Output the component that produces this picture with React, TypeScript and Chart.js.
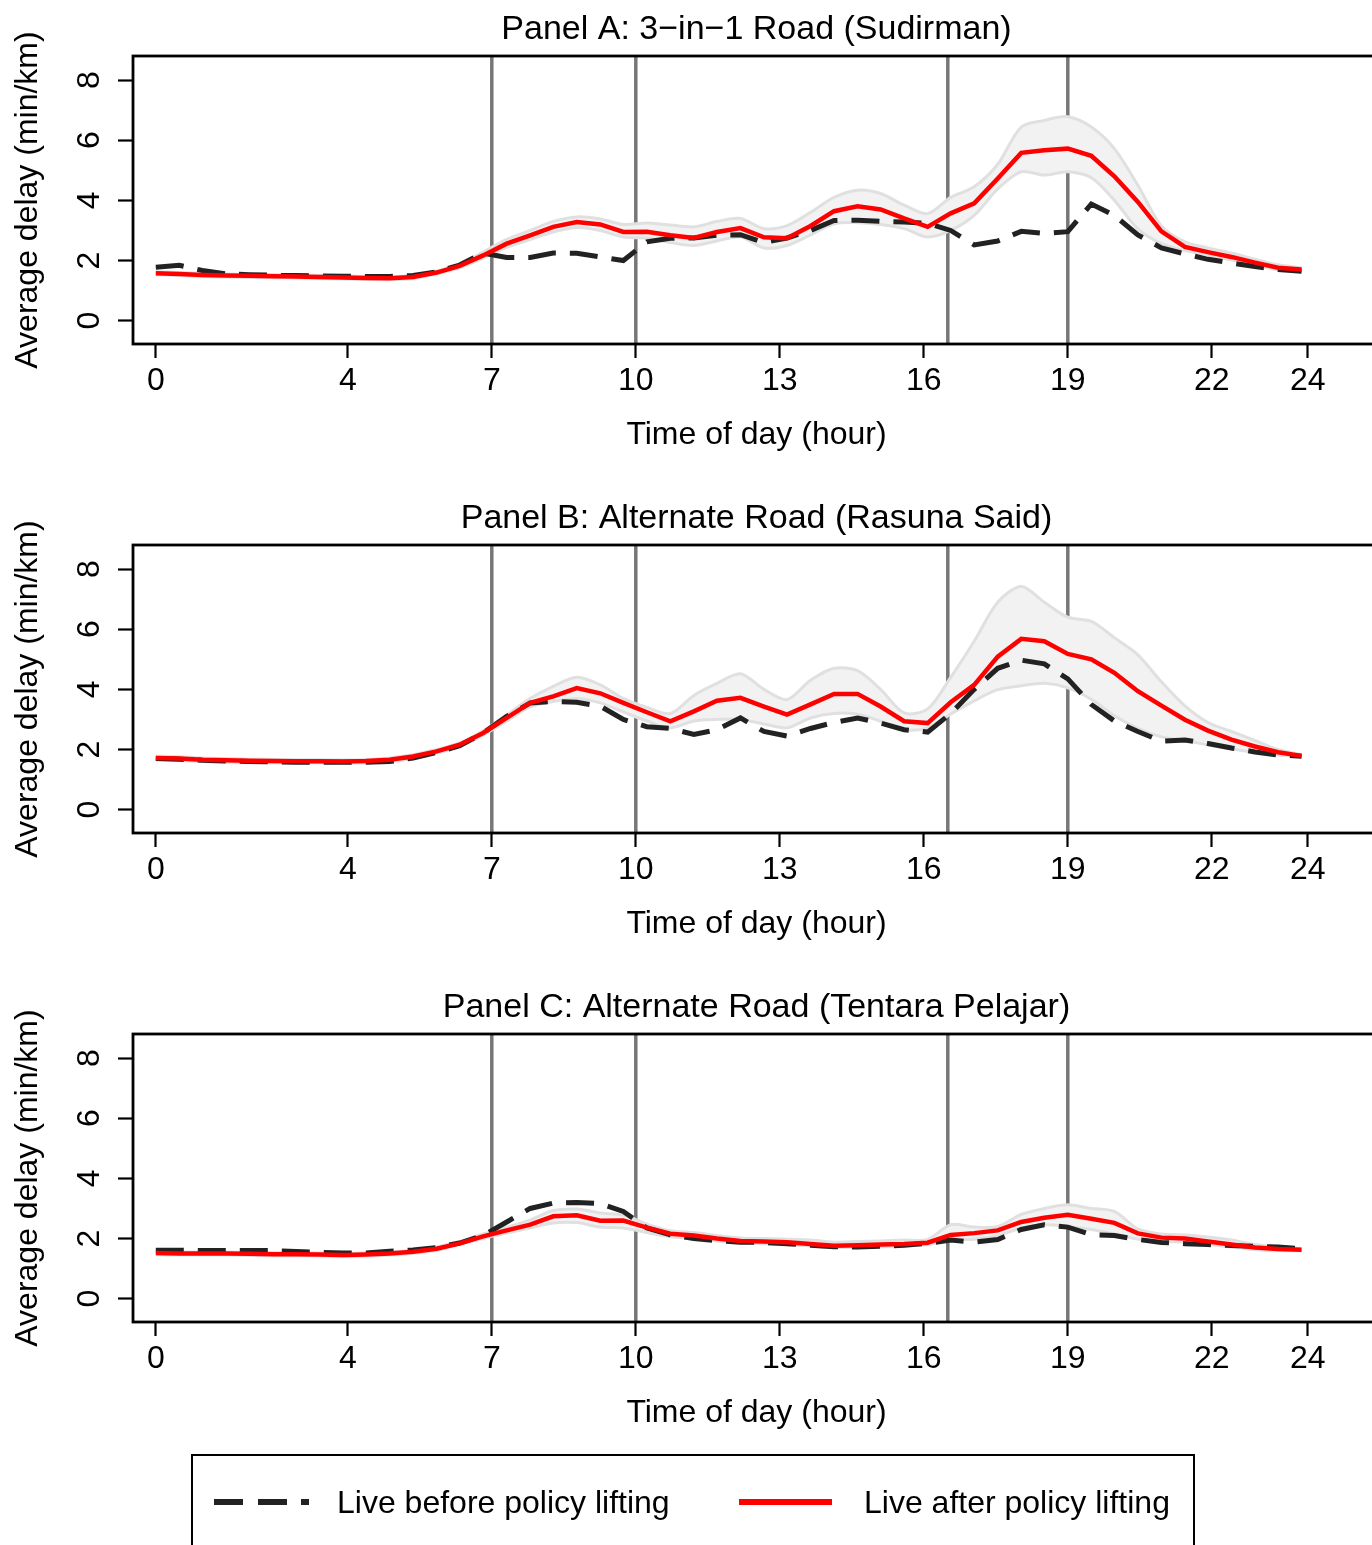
import React, { useEffect, useRef } from "react";
import { Chart, registerables } from "chart.js";

Chart.register(...registerables);

const FONT = "'Liberation Sans', Arial, Helvetica, sans-serif";

// sample times (hour of day)
const hours = [0, 0.49, 0.97, 1.46, 1.95, 2.44, 2.92, 3.41, 3.9, 4.38, 4.87, 5.36, 5.85, 6.33, 6.82, 7.31, 7.8, 8.28, 8.77, 9.26, 9.74, 10.23, 10.72, 11.21, 11.69, 12.18, 12.67, 13.15, 13.64, 14.13, 14.62, 15.1, 15.59, 16.08, 16.56, 17.05, 17.54, 18.03, 18.51, 19.0, 19.49, 19.97, 20.46, 20.95, 21.44, 21.92, 22.41, 22.9, 23.38, 23.87];

const xTicks = [0, 4, 7, 10, 13, 16, 19, 22, 24];
const yTicks = [0, 2, 4, 6, 8];
const policyLines = [7, 10, 16.5, 19];

const X_MIN = -0.475;
const X_MAX = 25.504;
const Y_MIN = -0.775;
const Y_MAX = 8.8;

const titles = [
  "Panel A: 3\u2212in\u22121 Road (Sudirman)",
  "Panel B: Alternate Road (Rasuna Said)",
  "Panel C: Alternate Road (Tentara Pelajar)",
];

// Panel A
const aAfter = [1.58, 1.55, 1.52, 1.5, 1.49, 1.48, 1.47, 1.45, 1.44, 1.42, 1.41, 1.45, 1.6, 1.82, 2.17, 2.56, 2.84, 3.12, 3.28, 3.2, 2.95, 2.96, 2.84, 2.75, 2.95, 3.08, 2.77, 2.74, 3.15, 3.64, 3.8, 3.7, 3.4, 3.12, 3.57, 3.9, 4.73, 5.58, 5.67, 5.72, 5.48, 4.8, 3.95, 2.97, 2.45, 2.28, 2.12, 1.93, 1.76, 1.7];
const aBefore = [1.78, 1.84, 1.67, 1.56, 1.53, 1.51, 1.5, 1.49, 1.48, 1.47, 1.47, 1.5, 1.62, 1.85, 2.25, 2.1, 2.1, 2.25, 2.24, 2.12, 2.0, 2.62, 2.74, 2.75, 2.84, 2.86, 2.6, 2.75, 3.0, 3.33, 3.34, 3.3, 3.28, 3.24, 3.0, 2.52, 2.65, 2.97, 2.9, 2.96, 3.88, 3.5, 2.85, 2.42, 2.22, 2.04, 1.92, 1.8, 1.7, 1.64];
const aUpper = [1.63, 1.6, 1.57, 1.55, 1.54, 1.53, 1.52, 1.5, 1.49, 1.47, 1.46, 1.5, 1.65, 1.88, 2.28, 2.7, 3.0, 3.3, 3.45, 3.38, 3.2, 3.25, 3.18, 3.12, 3.3, 3.4, 3.06, 3.16, 3.6, 4.1, 4.34, 4.23, 3.84, 3.56, 4.1, 4.45, 5.2, 6.44, 6.66, 6.78, 6.44, 5.72, 4.5, 3.15, 2.62, 2.42, 2.25, 2.04, 1.86, 1.76];
const aLower = [1.53, 1.5, 1.47, 1.45, 1.44, 1.43, 1.42, 1.4, 1.39, 1.37, 1.36, 1.4, 1.56, 1.76, 2.08, 2.44, 2.7, 2.95, 3.1, 3.0, 2.78, 2.75, 2.6, 2.5, 2.65, 2.78, 2.42, 2.5, 2.85, 3.22, 3.26, 3.2, 3.06, 2.78, 3.0, 3.5, 4.38, 4.95, 4.84, 4.95, 4.75, 4.0, 3.05, 2.56, 2.33, 2.18, 2.02, 1.85, 1.7, 1.64];

// Panel B
const bAfter = [1.72, 1.7, 1.66, 1.64, 1.63, 1.62, 1.61, 1.61, 1.6, 1.62, 1.66, 1.77, 1.94, 2.16, 2.55, 3.05, 3.55, 3.77, 4.04, 3.87, 3.55, 3.24, 2.94, 3.27, 3.62, 3.72, 3.43, 3.16, 3.5, 3.85, 3.85, 3.43, 2.94, 2.88, 3.57, 4.15, 5.09, 5.68, 5.6, 5.18, 5.0, 4.55, 3.94, 3.46, 2.99, 2.63, 2.33, 2.1, 1.91, 1.79];
const bBefore = [1.7, 1.68, 1.64, 1.62, 1.6, 1.59, 1.58, 1.58, 1.58, 1.58, 1.6, 1.72, 1.9, 2.13, 2.55, 3.1, 3.55, 3.6, 3.57, 3.44, 3.0, 2.76, 2.7, 2.5, 2.66, 3.05, 2.6, 2.45, 2.7, 2.9, 3.05, 2.88, 2.66, 2.58, 3.2, 4.0, 4.7, 4.97, 4.85, 4.35, 3.5, 2.95, 2.6, 2.28, 2.32, 2.2, 2.05, 1.92, 1.82, 1.78];
const bUpper = [1.78, 1.76, 1.72, 1.7, 1.68, 1.67, 1.66, 1.66, 1.65, 1.67, 1.72, 1.83, 2.0, 2.22, 2.62, 3.15, 3.7, 4.1, 4.4, 4.15, 3.7, 3.4, 3.2, 3.8, 4.2, 4.52, 4.0, 3.66, 4.3, 4.7, 4.62, 4.0, 3.22, 3.35, 4.4, 5.6, 6.9, 7.42, 6.9, 6.4, 6.26, 5.72, 5.15, 4.25, 3.45, 2.9, 2.6, 2.3, 2.0, 1.83];
const bLower = [1.66, 1.64, 1.6, 1.58, 1.57, 1.56, 1.56, 1.56, 1.55, 1.56, 1.6, 1.7, 1.88, 2.1, 2.48, 2.95, 3.42, 3.6, 3.7, 3.55, 3.25, 2.95, 2.72, 2.95, 3.0, 3.0, 2.85, 2.72, 3.05, 3.2, 3.17, 2.94, 2.66, 2.72, 3.18, 3.62, 3.99, 4.12, 4.2, 4.05, 3.67, 3.12, 2.7, 2.42, 2.3, 2.15, 2.02, 1.9, 1.82, 1.76];

// Panel C
const cAfter = [1.52, 1.5, 1.5, 1.5, 1.49, 1.48, 1.48, 1.47, 1.45, 1.47, 1.5, 1.56, 1.66, 1.84, 2.07, 2.27, 2.46, 2.74, 2.77, 2.59, 2.6, 2.36, 2.16, 2.1, 2.0, 1.92, 1.9, 1.88, 1.82, 1.76, 1.78, 1.8, 1.82, 1.86, 2.12, 2.18, 2.27, 2.55, 2.69, 2.79, 2.66, 2.52, 2.17, 2.03, 2.0, 1.9, 1.8, 1.7, 1.65, 1.63];
const cBefore = [1.61, 1.61, 1.6, 1.6, 1.6, 1.6, 1.57, 1.54, 1.52, 1.52, 1.58, 1.62, 1.7, 1.85, 2.1, 2.55, 3.0, 3.18, 3.2, 3.16, 2.9, 2.35, 2.12, 2.0, 1.93, 1.88, 1.87, 1.83, 1.78, 1.73, 1.72, 1.74, 1.78, 1.84, 1.95, 1.88, 1.97, 2.3, 2.46, 2.38, 2.13, 2.1, 1.97, 1.87, 1.83, 1.8, 1.77, 1.74, 1.72, 1.66];
const cUpper = [1.57, 1.55, 1.55, 1.55, 1.54, 1.53, 1.53, 1.52, 1.5, 1.52, 1.55, 1.61, 1.72, 1.9, 2.15, 2.37, 2.62, 2.93, 2.98, 2.85, 2.78, 2.48, 2.26, 2.2, 2.1, 2.02, 2.0, 1.98, 1.95, 1.88, 1.9, 1.92, 1.95, 1.97, 2.46, 2.38, 2.4, 2.8, 3.0, 3.12, 3.0, 2.9, 2.32, 2.15, 2.12, 2.05, 1.95, 1.8, 1.72, 1.67];
const cLower = [1.47, 1.45, 1.45, 1.45, 1.44, 1.43, 1.43, 1.42, 1.4, 1.42, 1.45, 1.51, 1.61, 1.8, 2.0, 2.18, 2.35, 2.52, 2.53, 2.38, 2.35, 2.2, 2.06, 2.0, 1.92, 1.85, 1.83, 1.8, 1.75, 1.7, 1.72, 1.73, 1.76, 1.8, 1.95, 1.98, 2.1, 2.35, 2.46, 2.4, 2.3, 2.15, 1.98, 1.9, 1.88, 1.8, 1.72, 1.63, 1.6, 1.59];

const panels = [
  { title: titles[0], before: aBefore, after: aAfter, upper: aUpper, lower: aLower },
  { title: titles[1], before: bBefore, after: bAfter, upper: bUpper, lower: bLower },
  { title: titles[2], before: cBefore, after: cAfter, upper: cUpper, lower: cLower },
];

const legendLabels = ["Live before policy lifting", "Live after policy lifting"];

const CANVAS_W = 1382;
const CANVAS_H = 489;

const framePlugin = {
  id: "frame",
  afterDatasetsDraw(chart: any) {
    const { ctx, chartArea: a } = chart;
    ctx.save();
    ctx.strokeStyle = "#000";
    ctx.lineWidth = 2.8;
    ctx.strokeRect(a.left, a.top, a.right - a.left, a.bottom - a.top);
    ctx.restore();
  },
};

const pts = (ys: number[]) => hours.map((h, i) => ({ x: h, y: ys[i] }));

function Panel({ p }: { p: (typeof panels)[number] }) {
  const ref = useRef<HTMLCanvasElement | null>(null);
  useEffect(() => {
    if (!ref.current) return;
    const font = { family: FONT, size: 32 };
    const chart = new Chart(ref.current, {
      type: "line",
      data: {
        datasets: [
          { label: legendLabels[1], data: pts(p.after), borderColor: "#ff0000", borderWidth: 4.5, pointRadius: 0, tension: 0, fill: false },
          { label: legendLabels[0], data: pts(p.before), borderColor: "#222222", borderWidth: 5, borderDash: [28, 14], borderCapStyle: "butt", pointRadius: 0, tension: 0, fill: false },
          { label: "upperEdge", data: pts(p.upper), borderColor: "#e0e0e0", borderWidth: 3, pointRadius: 0, tension: 0.3, fill: false },
          { label: "lowerEdge", data: pts(p.lower), borderColor: "#e0e0e0", borderWidth: 3, pointRadius: 0, tension: 0.3, fill: false },
          { label: "bandTop", data: pts(p.upper), borderWidth: 0, borderColor: "rgba(0,0,0,0)", backgroundColor: "#f2f2f2", pointRadius: 0, tension: 0.3, fill: "+1" },
          { label: "bandBottom", data: pts(p.lower), borderWidth: 0, borderColor: "rgba(0,0,0,0)", pointRadius: 0, tension: 0.3, fill: false },
          ...policyLines.map((v) => ({
            label: "policy " + v,
            data: [{ x: v, y: Y_MIN }, { x: v, y: Y_MAX }],
            borderColor: "#777777",
            borderWidth: 3.5,
            pointRadius: 0,
            fill: false,
          })),
        ] as any,
      },
      options: {
        animation: false,
        responsive: false,
        events: [],
        layout: { padding: { left: 0, right: 2, top: 0, bottom: 0 } },
        plugins: {
          legend: { display: false },
          tooltip: { enabled: false },
          title: {
            display: true,
            text: p.title,
            fullSize: false,
            color: "#000",
            font: { family: FONT, size: 34, weight: "normal" },
            padding: { top: 9, bottom: 6.2 },
          },
        },
        scales: {
          x: {
            type: "linear",
            min: X_MIN,
            max: X_MAX,
            afterBuildTicks: (s: any) => {
              s.ticks = xTicks.map((v) => ({ value: v }));
            },
            afterFit: (s: any) => {
              s.height = 145;
            },
            grid: { drawOnChartArea: false, drawTicks: true, tickLength: 14, tickWidth: 2.2, color: "#000" },
            border: { display: false },
            ticks: { font, color: "#000", padding: 4, maxRotation: 0, minRotation: 0, autoSkip: false },
            title: { display: true, text: "Time of day (hour)", font, color: "#000", padding: { top: 0, bottom: 35 } },
          },
          y: {
            type: "linear",
            min: Y_MIN,
            max: Y_MAX,
            afterBuildTicks: (s: any) => {
              s.ticks = yTicks.map((v) => ({ value: v }));
            },
            afterFit: (s: any) => {
              s.width = 133;
            },
            grid: { drawOnChartArea: false, drawTicks: true, tickLength: 15, tickWidth: 2.2, color: "#000" },
            border: { display: false },
            ticks: { font, color: "#000", padding: 19, minRotation: 90, maxRotation: 90, crossAlign: "center", autoSkip: false },
            title: { display: true, text: "Average delay (min/km)", font, color: "#000", padding: { top: 8.5, bottom: 0 } },
          },
        },
      } as any,
      plugins: [framePlugin],
    });
    return () => chart.destroy();
  }, [p]);
  return <canvas ref={ref} width={CANVAS_W} height={CANVAS_H} style={{ display: "block", width: CANVAS_W, height: CANVAS_H }} />;
}

export default function App() {
  const textStyle: React.CSSProperties = {
    position: "absolute",
    fontFamily: FONT,
    fontSize: 32,
    lineHeight: "38px",
    color: "#000",
    whiteSpace: "nowrap",
  };
  const seg = (left: number, width: number, color: string): React.CSSProperties => ({
    position: "absolute",
    left,
    top: 1499,
    width,
    height: 6,
    background: color,
  });
  return (
    <div style={{ position: "fixed", left: 0, top: 0, width: 1372, height: 1545, overflow: "hidden", background: "#fff" }}>
      {panels.map((p, i) => (
        <div key={i} style={{ position: "absolute", left: 0, top: i * CANVAS_H, width: CANVAS_W, height: CANVAS_H }}>
          <Panel p={p} />
        </div>
      ))}
      <div style={{ position: "absolute", left: 191, top: 1454, width: 1004, height: 140, border: "2.5px solid #000", boxSizing: "border-box" }} />
      <div style={seg(214, 29, "#222")} />
      <div style={seg(258, 29, "#222")} />
      <div style={seg(301, 8, "#222")} />
      <div style={{ ...textStyle, left: 337, top: 1483 }}>{legendLabels[0]}</div>
      <div style={seg(739, 93, "#ff0000")} />
      <div style={{ ...textStyle, left: 864, top: 1483 }}>{legendLabels[1]}</div>
    </div>
  );
}
